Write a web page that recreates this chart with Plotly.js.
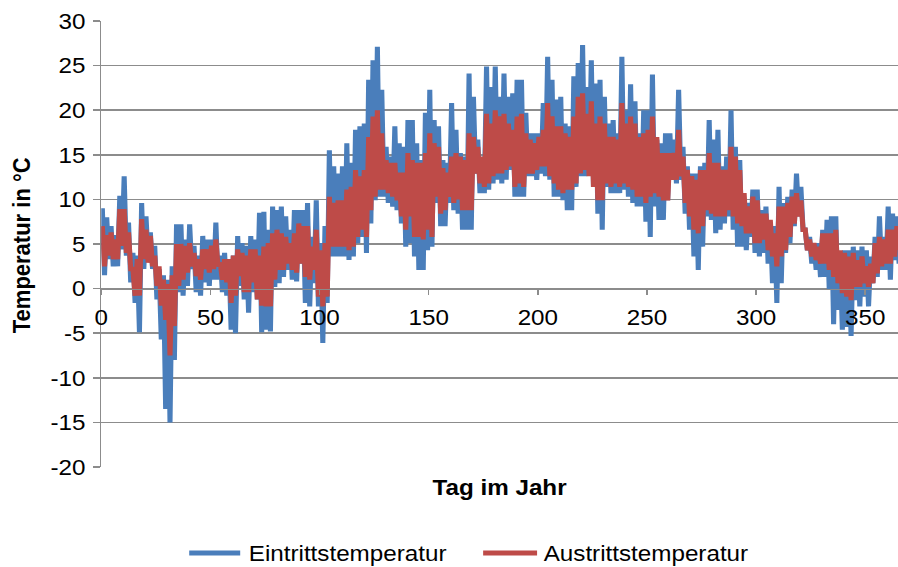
<!DOCTYPE html>
<html>
<head>
<meta charset="utf-8">
<script src="https://cdn.plot.ly/plotly-3.0.1.min.js"></script>
<style>
  html, body { margin: 0; padding: 0; background: #ffffff; overflow: hidden; }
  /* The figure is laid out at 816 px and widened to 898 px, which gives the wide lettering */
  #chart { width: 816px; height: 567px; transform: scaleX(1.1005); transform-origin: 0 0; }
</style>
</head>
<body>
<div id="chart"></div>
<script>
// Two-day bins over the year: bin i spans day 2i .. 2i+2.
// For each bin the daily high and low of the inlet and outlet temperature (°C).
const eintrittHoch = [
  9.0, 8.0, 7.0, 6.0, 10.4, 12.6, 7.4, 4.0, 3.7, 9.6,
  8.1, 6.3, 4.8, 2.2, 1.5, 1.0, 2.5, 7.2, 7.2, 5.5,
  7.2, 4.8, 3.7, 5.9, 5.5, 5.5, 7.4, 3.7, 4.0, 3.3,
  3.7, 5.9, 5.1, 4.8, 5.9, 5.5, 8.5, 8.6, 6.6, 9.2,
  8.8, 9.2, 8.1, 6.6, 8.8, 8.8, 8.8, 9.6, 5.8, 9.9,
  5.1, 7.0, 15.5, 13.7, 12.9, 13.7, 16.3, 14.1, 17.8, 18.2,
  18.5, 23.4, 25.6, 27.1, 22.3, 15.9, 14.8, 18.2, 16.3, 15.9,
  18.9, 18.9, 16.3, 14.4, 19.7, 22.3, 18.9, 18.2, 14.4, 14.1,
  20.8, 17.8, 15.2, 14.8, 24.1, 21.5, 16.7, 14.4, 24.9, 22.6,
  24.9, 21.5, 24.1, 21.5, 21.9, 23.4, 23.4, 19.7, 17.4, 17.4,
  17.4, 20.8, 26.0, 23.4, 21.2, 21.5, 18.5, 18.2, 23.8, 25.3,
  27.3, 22.6, 25.6, 23.0, 23.4, 21.5, 18.5, 18.9, 17.4, 26.0,
  20.0, 22.9, 21.0, 17.4, 20.0, 20.0, 24.0, 16.7, 16.3, 17.4,
  17.4, 16.7, 22.3, 15.9, 13.7, 12.9, 12.9, 13.7, 14.1, 18.9,
  16.7, 17.8, 13.7, 14.8, 20.0, 15.9, 14.4, 9.9, 9.6, 11.1,
  11.1, 8.8, 9.2, 7.3, 7.0, 11.4, 9.6, 10.3, 11.1, 12.9,
  11.4, 6.6, 5.8, 5.1, 5.1, 6.6, 7.7, 8.1, 8.1, 3.6,
  4.3, 4.3, 4.7, 4.3, 4.7, 4.3, 3.6, 5.8, 8.1, 5.8,
  9.2, 8.4, 8.1
];
const eintrittTief = [
  1.5, 3.3, 2.5, 2.5, 4.4, 3.7, 0.7, -1.6, -4.9, 2.2,
  3.3, 2.2, -1.2, -5.7, -13.5, -15.0, -8.0, -0.4, -0.8, 0.3,
  2.2, -0.4, -0.8, 0.7, 0.3, 1.0, 1.0, -0.4, -0.8, -4.6,
  -5.0, 0.3, -1.2, -2.7, -0.4, -1.2, -4.9, -4.6, -4.8, 0.2,
  0.6, 1.3, 2.1, 1.0, 0.8, 2.8, -1.6, -2.0, 0.6, -2.0,
  -6.1, -1.6, 3.6, 3.6, 3.6, 3.6, 3.2, 3.6, 5.1, 5.8,
  4.0, 7.3, 9.9, 10.3, 10.3, 9.6, 9.2, 8.8, 7.3, 4.7,
  5.1, 3.6, 2.1, 2.1, 4.3, 4.7, 9.6, 7.0, 7.0, 9.6,
  8.8, 8.4, 6.6, 6.6, 6.6, 12.9, 10.7, 10.7, 11.1, 11.8,
  12.2, 11.8, 12.2, 13.3, 10.3, 10.3, 10.3, 12.6, 12.6, 12.2,
  12.9, 12.6, 12.2, 10.3, 10.3, 9.9, 8.8, 8.8, 11.4, 12.6,
  12.6, 12.9, 11.4, 8.4, 6.6, 11.4, 10.7, 10.7, 10.7, 11.1,
  10.3, 9.6, 9.2, 9.2, 7.5, 5.8, 9.2, 7.7, 7.7, 9.9,
  12.2, 11.8, 12.2, 8.4, 6.6, 3.6, 2.1, 4.7, 8.1, 7.7,
  6.2, 6.6, 7.3, 8.1, 6.6, 4.7, 4.7, 4.3, 5.8, 4.0,
  3.6, 4.0, 2.8, 0.6, -1.6, 0.6, 4.0, 5.1, 7.0, 8.1,
  6.6, 4.3, 2.8, 2.1, 1.3, 1.3, -0.1, -4.0, -2.4, -4.6,
  -4.3, -5.3, -1.3, -2.0, -0.9, -2.0, 0.6, 1.3, 2.1, 2.1,
  1.0, 3.2, 2.8
];
const austrittHoch = [
  7.0, 6.0, 6.3, 5.5, 8.9, 8.9, 6.3, 2.2, 3.3, 7.8,
  6.6, 5.9, 3.7, 2.5, 1.0, 0.5, 1.5, 5.0, 5.0, 4.8,
  5.1, 4.0, 3.3, 4.4, 4.4, 4.8, 5.5, 2.9, 3.3, 3.3,
  3.7, 4.4, 4.0, 3.7, 4.4, 4.4, 3.7, 4.7, 5.1, 6.2,
  6.6, 6.2, 5.8, 5.1, 6.2, 7.3, 7.0, 7.0, 4.7, 6.6,
  4.3, 5.1, 10.3, 9.6, 9.9, 9.9, 11.1, 11.4, 13.3, 12.6,
  13.3, 17.0, 19.3, 20.0, 17.4, 14.4, 14.1, 14.1, 13.0, 13.0,
  15.2, 14.4, 14.1, 14.1, 15.2, 17.4, 16.3, 15.9, 13.5, 13.0,
  14.8, 15.2, 14.8, 14.4, 17.4, 17.0, 15.9, 14.8, 19.6, 18.5,
  20.0, 19.3, 19.6, 18.5, 17.8, 19.3, 19.6, 17.4, 16.7, 16.3,
  17.0, 17.8, 20.8, 19.3, 18.2, 18.2, 17.4, 17.0, 19.3, 21.5,
  21.9, 19.6, 21.0, 18.5, 19.3, 18.5, 17.0, 17.0, 16.7, 20.8,
  18.5, 19.3, 18.5, 17.0, 17.4, 17.8, 19.3, 17.0, 15.2, 15.2,
  15.2, 15.2, 17.8, 14.8, 13.3, 12.6, 12.2, 13.3, 13.3, 15.2,
  14.1, 14.1, 13.3, 13.3, 15.9, 14.8, 13.3, 10.7, 9.2, 10.3,
  9.9, 8.4, 8.4, 7.7, 6.2, 9.2, 9.2, 9.6, 10.3, 10.7,
  9.9, 6.6, 5.5, 5.1, 4.7, 6.2, 6.2, 6.2, 6.6, 4.3,
  4.0, 3.6, 4.0, 3.2, 3.6, 2.5, 2.8, 5.1, 5.8, 5.5,
  6.6, 6.6, 7.0
];
const austrittTief = [
  2.5, 3.7, 3.3, 3.3, 4.8, 4.0, 2.2, -0.8, -0.8, 3.3,
  2.9, 2.5, 0.3, -1.9, -3.5, -7.5, -4.2, 0.3, 1.0, 1.8,
  2.5, 1.4, 1.0, 2.2, 1.8, 2.2, 2.5, 1.0, 0.7, -1.6,
  -0.8, 1.4, -0.4, -0.4, 0.7, -1.2, -1.9, -2.0, -2.0, 1.0,
  2.1, 2.1, 2.8, 2.1, 1.8, 2.8, 1.3, 1.0, 2.1, -0.9,
  -2.0, -0.9, 4.7, 4.7, 4.7, 4.7, 4.3, 4.7, 5.8, 6.6,
  5.8, 8.8, 10.3, 11.1, 11.1, 10.7, 10.3, 9.9, 8.1, 6.6,
  8.1, 5.8, 5.8, 5.5, 6.6, 5.8, 10.3, 8.4, 8.8, 10.3,
  9.6, 10.0, 8.8, 8.8, 8.8, 12.9, 11.8, 11.4, 11.8, 12.6,
  12.9, 12.9, 13.3, 13.7, 11.4, 11.8, 11.4, 12.9, 12.9, 13.3,
  13.7, 13.7, 12.6, 11.8, 11.1, 10.7, 11.1, 11.1, 11.8, 12.9,
  13.3, 12.6, 11.4, 9.9, 9.9, 11.8, 11.4, 11.8, 11.4, 11.8,
  11.4, 11.1, 10.3, 10.3, 9.6, 10.3, 10.7, 10.3, 9.9, 9.9,
  12.2, 12.2, 12.6, 9.6, 8.1, 6.6, 6.2, 7.0, 8.8, 8.4,
  8.1, 8.1, 8.1, 8.8, 8.1, 7.3, 7.0, 6.2, 6.2, 5.1,
  5.1, 5.5, 4.3, 3.6, 2.5, 3.6, 4.3, 5.8, 7.3, 8.1,
  6.6, 4.3, 3.6, 3.2, 2.8, 2.8, 2.1, 1.3, 0.6, -0.5,
  -0.9, -1.3, 0.2, 0.2, 0.6, 0.2, 0.6, 1.7, 2.5, 2.8,
  2.8, 3.6, 4.3
];

const xTicks = [0, 50, 100, 150, 200, 250, 300, 350];
const yTicks = [-20, -15, -10, -5, 0, 5, 10, 15, 20, 25, 30];
const binDays = 2;

// Each bin contributes its high and its low, one day apart, giving the daily swing.
function swingSeries(hoch, tief) {
  const x = [], y = [];
  for (let i = 0; i < hoch.length; i++) {
    x.push(i * binDays + 0.5, i * binDays + 1.5);
    y.push(hoch[i], tief[i]);
  }
  return { x, y };
}

const ein = swingSeries(eintrittHoch, eintrittTief);
const aus = swingSeries(austrittHoch, austrittTief);

const blau = '#4a7ebb';
const rot = '#be4b48';
const grau = '#8c8c8c';
const schrift = 'Liberation Sans, Arial, sans-serif';
const size = 22;

const traces = [
  { x: ein.x, y: ein.y, type: 'scatter', mode: 'lines', name: 'Eintrittstemperatur',
    line: { color: blau, width: 4.6 }, showlegend: false },
  { x: aus.x, y: aus.y, type: 'scatter', mode: 'lines', name: 'Austrittstemperatur',
    line: { color: rot, width: 4.6 }, showlegend: false }
];

// Paper coordinates of the legend row below the plot
const legY = -0.193;

const layout = {
  width: 816, height: 567,
  margin: { l: 91.8, r: 0, t: 21, b: 100 },
  paper_bgcolor: '#ffffff', plot_bgcolor: '#ffffff',
  font: { family: schrift, size: size, color: '#000000' },
  showlegend: false,
  xaxis: {
    range: [0, 365], tickvals: xTicks, ticktext: xTicks.map(String),
    anchor: 'free', position: 0.4,
    showline: true, linecolor: grau, linewidth: 1.5,
    ticks: 'outside', ticklen: 5, tickcolor: grau, tickwidth: 1.4,
    ticklabelstandoff: 4,
    showgrid: false, zeroline: false,
    tickfont: { family: schrift, size: size, color: '#000000' }
  },
  yaxis: {
    range: [-20, 30], tickvals: yTicks, ticktext: yTicks.map(String),
    showline: true, linecolor: grau, linewidth: 1.4,
    ticks: 'outside', ticklen: 6.5, tickcolor: grau, tickwidth: 1.5,
    ticklabelstandoff: 2,
    showgrid: true, gridcolor: grau, gridwidth: 1.5,
    zeroline: false,
    tickfont: { family: schrift, size: size, color: '#000000' }
  },
  shapes: [
    { type: 'line', xref: 'paper', yref: 'paper', x0: 0.1104, x1: 0.1744, y0: legY, y1: legY,
      line: { color: blau, width: 5 } },
    { type: 'line', xref: 'paper', yref: 'paper', x0: 0.4793, x1: 0.5470, y0: legY, y1: legY,
      line: { color: rot, width: 5 } }
  ],
  annotations: [
    { text: '<b>Temperatur in °C</b>', xref: 'paper', yref: 'paper', x: -0.099, y: 0.498,
      xanchor: 'center', yanchor: 'middle', textangle: -90, showarrow: false,
      font: { family: schrift, size: size, color: '#000000' } },
    { text: '<b>Tag im Jahr</b>', xref: 'paper', yref: 'paper', x: 0.5, y: -0.047,
      xanchor: 'center', yanchor: 'middle', showarrow: false,
      font: { family: schrift, size: size, color: '#000000' } },
    { text: 'Eintrittstemperatur', xref: 'paper', yref: 'paper', x: 0.1819, y: legY,
      xanchor: 'left', yanchor: 'middle', showarrow: false,
      font: { family: schrift, size: size, color: '#000000' } },
    { text: 'Austrittstemperatur', xref: 'paper', yref: 'paper', x: 0.5521, y: legY,
      xanchor: 'left', yanchor: 'middle', showarrow: false,
      font: { family: schrift, size: size, color: '#000000' } }
  ]
};

Plotly.newPlot('chart', traces, layout, { displayModeBar: false, staticPlot: true });
</script>
</body>
</html>
